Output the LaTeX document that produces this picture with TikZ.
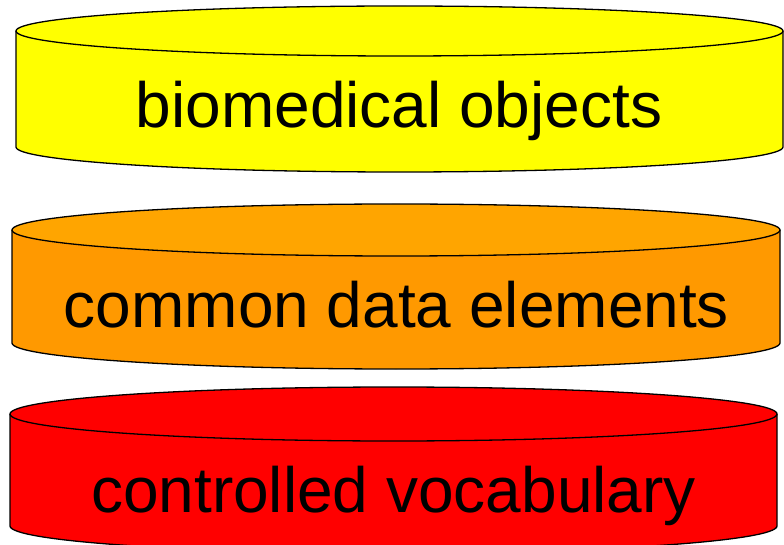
\documentclass[tikz,border=0pt]{standalone}
\usepackage{fontspec}
\setmainfont{Liberation Sans}
\definecolor{yelTop}{HTML}{FFFF00}
\definecolor{yelSide}{HTML}{FFFF00}
\definecolor{orTop}{HTML}{FFA500}
\definecolor{orSide}{HTML}{FF9900}
\definecolor{redTop}{HTML}{FF0000}
\definecolor{redSide}{HTML}{FF0000}
\tikzset{
  edge/.style={draw=black, line width=1.3pt, line join=round},
  layertext/.style={anchor=base, inner sep=0pt, font=\fontsize{64}{70}\selectfont, text=black}
}
% \disk{cx}{rx}{top y}{bottom y}{ry}{top colour}{side colour}
\newcommand{\disk}[7]{%
  \path[fill=#7] ({#1-#2},#3) -- ({#1-#2},#4)
     arc[start angle=180, end angle=360, x radius=#2pt, y radius=#5pt]
     -- ({#1+#2},#3) -- cycle;
  \draw[edge] ({#1-#2},#3) -- ({#1-#2},#4)
     arc[start angle=180, end angle=360, x radius=#2pt, y radius=#5pt]
     -- ({#1+#2},#3);
  \draw[edge, fill=#6] (#1,#3) ellipse[x radius=#2pt, y radius=#5pt];
}
\begin{document}
\begin{tikzpicture}[x=1pt, y=1pt]
  \useasboundingbox (0,0) rectangle (784,544);
  % bottom layer
  \disk{393.5}{383.5}{130}{18}{27}{redTop}{redSide}
  \node[layertext] (vocab) at (393.5,32) {controlled vocabulary};
  % middle layer
  \disk{396}{384}{314}{201}{26}{orTop}{orSide}
  \node[layertext] (cde) at (396.5,217) {common data elements};
  % top layer
  \disk{399.5}{383.5}{513}{397}{25}{yelTop}{yelSide}
  \node[layertext] (objects) at (399,416) {biomedical objects};
\end{tikzpicture}
\end{document}
